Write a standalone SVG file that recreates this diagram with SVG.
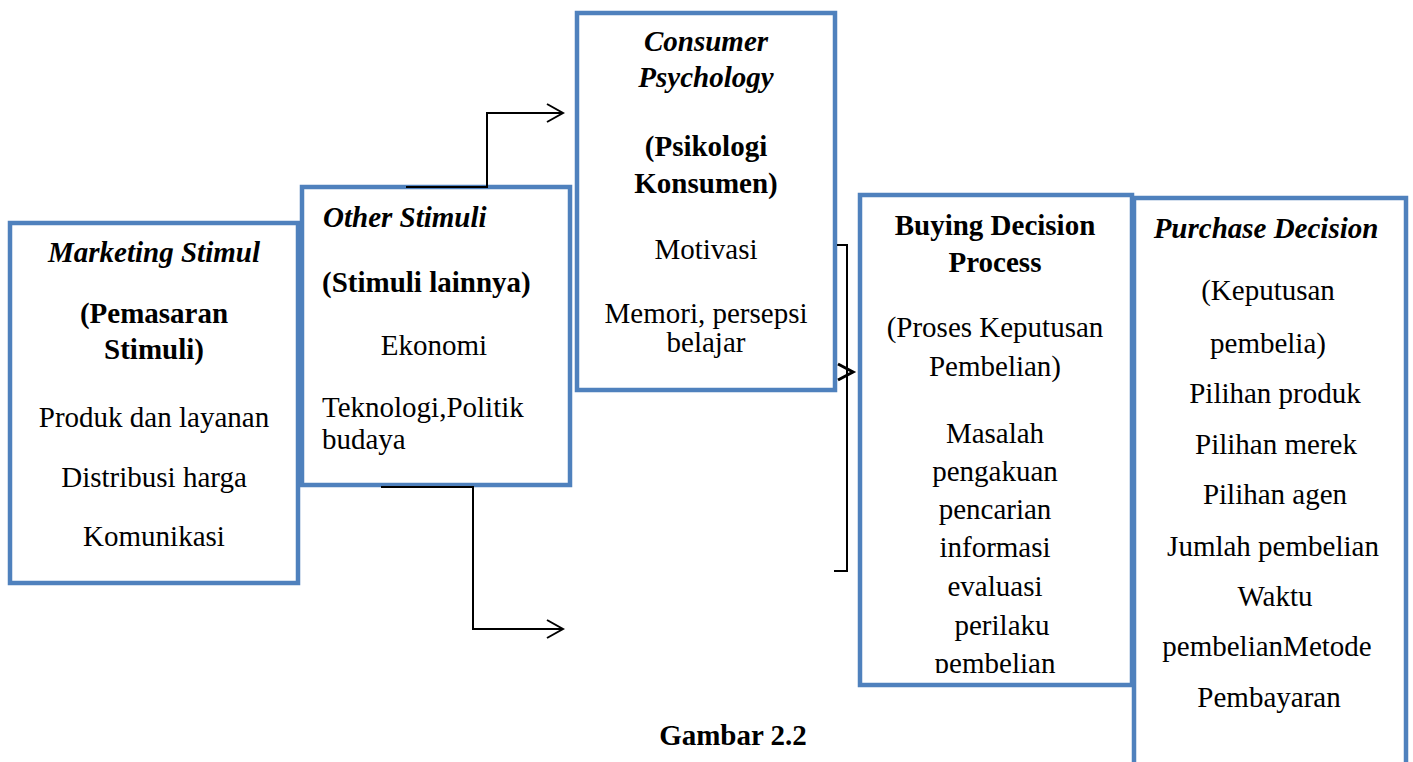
<svg xmlns="http://www.w3.org/2000/svg" width="1413" height="762" viewBox="0 0 1413 762">
<style>
.box{fill:#fff;stroke:#4f81bd;stroke-width:4.5}
.t{font-family:"Liberation Serif","Times New Roman",serif;font-size:29px;fill:#000}
.c{text-anchor:middle}
.b{font-weight:bold}
.i{font-style:italic}
.con{fill:none;stroke:#000;stroke-width:2}
</style>
<defs>
<marker id="chev" viewBox="0 0 20 20" refX="18" refY="10" markerWidth="20" markerHeight="20" markerUnits="userSpaceOnUse" orient="auto">
<path d="M2,1 L18,10 L2,19" fill="none" stroke="#000" stroke-width="2"/>
</marker>
<clipPath id="clip4"><rect x="860" y="195" width="272" height="478"/></clipPath>
</defs>
<rect width="1413" height="762" fill="#fff"/>

<g id="marketing">
<rect class="box" x="10" y="223" width="288" height="360"/>
<text class="t c b i" x="154" y="262">Marketing Stimul</text>
<text class="t c b" x="154" y="323">(Pemasaran</text>
<text class="t c b" x="154" y="359">Stimuli)</text>
<text class="t c" x="154" y="427">Produk dan layanan</text>
<text class="t c" x="154" y="487">Distribusi harga</text>
<text class="t c" x="154" y="546">Komunikasi</text>
</g>

<g id="other">
<rect class="box" x="302" y="187" width="268" height="298"/>
<text class="t b i" x="323" y="227">Other Stimuli</text>
<text class="t b" x="322" y="292">(Stimuli lainnya)</text>
<text class="t c" x="434" y="355">Ekonomi</text>
<text class="t" x="322" y="417">Teknologi,Politik</text>
<text class="t" x="322" y="449">budaya</text>
</g>

<g id="consumer">
<rect class="box" x="577" y="13" width="258" height="377"/>
<text class="t c b i" x="706" y="51">Consumer</text>
<text class="t c b i" x="706" y="87">Psychology</text>
<text class="t c b" x="706" y="156">(Psikologi</text>
<text class="t c b" x="706" y="193">Konsumen)</text>
<text class="t c" x="706" y="259">Motivasi</text>
<text class="t c" x="706" y="323">Memori, persepsi</text>
<text class="t c" x="706" y="352">belajar</text>
</g>

<g id="buying">
<rect class="box" x="860" y="195" width="272" height="490"/>
<g clip-path="url(#clip4)">
<text class="t c b" x="995" y="235">Buying Decision</text>
<text class="t c b" x="995" y="272">Process</text>
<text class="t c" x="995" y="337">(Proses Keputusan</text>
<text class="t c" x="995" y="376">Pembelian)</text>
<text class="t c" x="995" y="443">Masalah</text>
<text class="t c" x="995" y="481">pengakuan</text>
<text class="t c" x="995" y="519">pencarian</text>
<text class="t c" x="995" y="557">informasi</text>
<text class="t c" x="995" y="596">evaluasi</text>
<text class="t c" x="1002" y="635">perilaku</text>
<text class="t c" x="995" y="673">pembelian</text>
</g>
</g>

<g id="purchase">
<rect class="box" x="1134" y="198" width="272" height="580"/>
<text class="t c b i" x="1266" y="238">Purchase Decision</text>
<text class="t c" x="1268" y="300">(Keputusan</text>
<text class="t c" x="1268" y="353">pembelia)</text>
<text class="t c" x="1275" y="403">Pilihan produk</text>
<text class="t c" x="1276" y="454">Pilihan merek</text>
<text class="t c" x="1275" y="504">Pilihan agen</text>
<text class="t c" x="1273" y="556">Jumlah pembelian</text>
<text class="t c" x="1275" y="606">Waktu</text>
<text class="t c" x="1267" y="656">pembelianMetode</text>
<text class="t c" x="1269" y="707">Pembayaran</text>
</g>

<g id="caption">
<text class="t c b" x="733" y="745">Gambar 2.2</text>
</g>

<g id="connectors">
<path class="con" d="M406,187 H487 V113 H563" marker-end="url(#chev)"/>
<path class="con" d="M381,487 H473 V629 H563" marker-end="url(#chev)"/>
<path class="con" d="M837,245 H847 V571 H834"/>
<path d="M838,364 L853,372 L838,380" fill="none" stroke="#000" stroke-width="3"/>
</g>
</svg>
